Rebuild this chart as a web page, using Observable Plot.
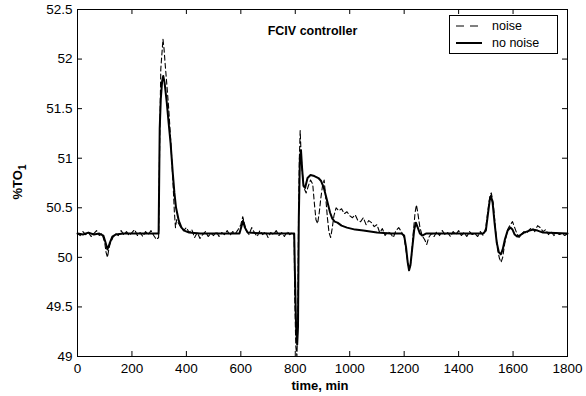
<!DOCTYPE html>
<html>
<head>
<meta charset="utf-8">
<script src="https://cdn.jsdelivr.net/npm/d3@7"></script>
<script src="https://cdn.jsdelivr.net/npm/@observablehq/plot@0.6"></script>
<style>
  html, body { margin: 0; padding: 0; background: #fff; }
  svg { display: block; }
</style>
</head>
<body>
<div id="chart"></div>
<script>
const xTicks = [0, 200, 400, 600, 800, 1000, 1200, 1400, 1600, 1800];
const yTicks = [49, 49.5, 50, 50.5, 51, 51.5, 52, 52.5];
const yTickLabels = ["49", "49.5", "50", "50.5", "51", "51.5", "52", "52.5"];
const titleText = "FCIV controller";
const xLabel = "time, min";
const seriesNames = ["noise", "no noise"];

const noiseT = [0,10,20,30,40,50,60,70,80,90,100,105,110,115,120,130,140,150,160,170,180,190,200,210,220,230,240,250,260,270,280,290,298,302,306,310,314,318,322,328,335,342,350,356,360,364,370,380,390,400,410,420,430,440,450,460,470,480,490,500,510,520,530,540,550,560,570,580,590,600,607,615,620,630,640,650,660,670,680,690,700,710,720,730,740,750,760,770,780,790,796,798,802,806,809,812,815,818,822,826,832,840,848,856,864,870,876,882,888,894,900,906,912,918,924,930,936,942,950,960,970,980,990,1000,1010,1020,1030,1040,1050,1060,1070,1080,1090,1100,1110,1120,1130,1140,1150,1160,1170,1180,1190,1200,1208,1215,1220,1226,1232,1240,1245,1250,1258,1266,1275,1283,1290,1300,1310,1320,1330,1340,1350,1360,1370,1380,1390,1400,1410,1420,1430,1440,1450,1460,1470,1480,1490,1500,1508,1515,1520,1527,1535,1543,1550,1556,1562,1570,1580,1590,1598,1606,1614,1622,1630,1640,1650,1660,1670,1680,1690,1700,1710,1720,1730,1740,1750,1760,1770,1780,1790,1800];
const noiseV = [50.24,50.22,50.26,50.23,50.25,50.21,50.24,50.27,50.22,50.24,50.15,50.05,50.00,50.08,50.14,50.20,50.24,50.22,50.27,50.23,50.26,50.22,50.25,50.28,50.22,50.25,50.21,50.26,50.23,50.27,50.22,50.18,50.20,51.2,51.9,52.05,52.2,52.1,51.95,51.75,51.5,51.2,50.8,50.45,50.3,50.38,50.35,50.3,50.27,50.3,50.25,50.28,50.2,50.25,50.19,50.23,50.26,50.21,50.24,50.22,50.26,50.21,50.25,50.23,50.27,50.22,50.26,50.24,50.28,50.33,50.41,50.32,50.27,50.23,50.3,50.25,50.21,50.27,50.23,50.26,50.2,50.25,50.23,50.27,50.22,50.25,50.21,50.26,50.23,50.25,50.22,49.6,49.1,49.0,49.3,50.4,51.0,51.28,51.0,50.85,50.7,50.65,50.72,50.78,50.74,50.55,50.38,50.34,50.45,50.6,50.72,50.78,50.6,50.4,50.25,50.2,50.3,50.42,50.5,50.47,50.49,50.44,50.46,50.42,50.4,50.43,50.37,50.36,50.4,50.33,50.37,50.35,50.31,50.33,50.25,50.29,50.22,50.26,50.24,50.2,50.27,50.3,50.26,50.2,50.05,49.92,49.88,49.98,50.2,50.45,50.53,50.45,50.3,50.22,50.18,50.13,50.2,50.24,50.21,50.26,50.22,50.27,50.23,50.25,50.21,50.26,50.23,50.27,50.22,50.25,50.21,50.26,50.23,50.24,50.21,50.26,50.22,50.3,50.48,50.62,50.65,50.55,50.3,50.08,49.99,49.95,50.0,50.15,50.28,50.33,50.36,50.3,50.24,50.2,50.23,50.26,50.24,50.28,50.3,50.26,50.32,50.3,50.26,50.28,50.23,50.26,50.22,50.25,50.23,50.24,50.22,50.24];

const cleanT = [0,20,40,60,80,95,103,110,118,128,140,170,200,250,298,302,306,311,315,320,328,335,342,350,356,362,372,382,392,410,450,595,603,608,615,625,700,796,799,803,807,810,813,817,821,825,830,836,845,856,870,885,895,905,917,928,936,945,955,970,990,1020,1050,1100,1150,1190,1200,1207,1213,1218,1223,1230,1237,1243,1250,1258,1266,1280,1490,1500,1507,1514,1519,1525,1532,1540,1548,1555,1562,1570,1580,1590,1598,1606,1615,1625,1640,1660,1675,1690,1710,1800];
const cleanV = [50.24,50.23,50.25,50.23,50.24,50.22,50.15,50.08,50.14,50.21,50.23,50.24,50.24,50.24,50.24,51.3,51.6,51.78,51.83,51.76,51.56,51.35,51.15,50.85,50.65,50.5,50.37,50.3,50.27,50.25,50.24,50.24,50.32,50.37,50.3,50.25,50.24,50.24,49.8,49.3,49.12,49.3,50.4,51.0,51.08,50.9,50.72,50.7,50.8,50.83,50.82,50.8,50.77,50.7,50.57,50.45,50.39,50.36,50.35,50.32,50.3,50.28,50.27,50.25,50.24,50.24,50.22,50.1,49.95,49.87,49.92,50.1,50.28,50.35,50.3,50.24,50.22,50.24,50.24,50.27,50.42,50.57,50.62,50.55,50.35,50.15,50.05,50.03,50.08,50.18,50.27,50.3,50.28,50.23,50.21,50.22,50.25,50.27,50.28,50.27,50.25,50.24];

const noiseData = noiseT.map((t, i) => ({t, v: noiseV[i]}));
const cleanData = cleanT.map((t, i) => ({t, v: cleanV[i]}));

const W = 586, H = 396;
const mL = 77, mR = 19, mT = 9, mB = 40;
const fw = W - mL - mR, fh = H - mT - mB;
const tick = 5;
const font = "'Liberation Sans', Arial, sans-serif";

const chart = Plot.plot({
  width: W, height: H,
  marginLeft: mL, marginRight: mR, marginTop: mT, marginBottom: mB,
  style: {fontFamily: font, fontSize: "13px", color: "#000", background: "#fff"},
  x: {domain: [0, 1800]},
  y: {domain: [49, 52.5]},
  marks: [
    Plot.line(noiseData, {x: "t", y: "v", stroke: "#000", strokeWidth: 1.1, strokeDasharray: "5,3"}),
    Plot.line(cleanData, {x: "t", y: "v", stroke: "#000", strokeWidth: 2}),
    Plot.ruleX(xTicks, {x: d => d, insetTop: fh - tick, stroke: "#000"}),
    Plot.ruleX(xTicks, {x: d => d, insetBottom: fh - tick, stroke: "#000"}),
    Plot.ruleY(yTicks, {y: d => d, insetRight: fw - tick, stroke: "#000"}),
    Plot.ruleY(yTicks, {y: d => d, insetLeft: fw - tick, stroke: "#000"}),
    Plot.frame({stroke: "#000", strokeWidth: 1}),
    Plot.axisX({ticks: xTicks, tickSize: 0, tickPadding: 7, label: null, fontSize: 13.5, tickFormat: d => String(d)}),
    Plot.axisY({ticks: yTicks, tickSize: 0, tickPadding: 5, label: null, fontSize: 13.5,
      tickFormat: d => yTickLabels[yTicks.indexOf(d)]}),
    Plot.text([titleText], {text: d => d, frameAnchor: "top", dx: -10, dy: 17, fontWeight: "bold", fontSize: 12.5})
  ]
});
document.getElementById("chart").appendChild(chart);

const svg = d3.select(chart);
// x label
svg.append("text").attr("x", 320).attr("y", 390).attr("text-anchor", "middle")
  .attr("font-family", font).attr("font-size", 13).attr("font-weight", "bold")
  .text(xLabel);
// y label with subscript
const yl = svg.append("text").attr("transform", "translate(22,182) rotate(-90)").attr("text-anchor", "middle")
  .attr("font-family", font).attr("font-size", 13).attr("font-weight", "bold");
yl.append("tspan").text("%TO");
yl.append("tspan").attr("font-size", 10).attr("dy", 4).text("1");

// legend
const lg = svg.append("g").attr("font-family", font).attr("font-size", 12.5).attr("text-anchor", "start");
lg.append("rect").attr("x", 449.5).attr("y", 15.5).attr("width", 108).attr("height", 38)
  .attr("fill", "#fff").attr("stroke", "#000");
lg.append("line").attr("x1", 456).attr("x2", 482).attr("y1", 26).attr("y2", 26)
  .attr("stroke", "#000").attr("stroke-dasharray", "8,6");
lg.append("text").attr("x", 492).attr("y", 30).attr("text-anchor", "start").text(seriesNames[0]);
lg.append("line").attr("x1", 456).attr("x2", 482).attr("y1", 43).attr("y2", 43)
  .attr("stroke", "#000").attr("stroke-width", 2);
lg.append("text").attr("x", 492).attr("y", 47).attr("text-anchor", "start").text(seriesNames[1]);
</script>
</body>
</html>
